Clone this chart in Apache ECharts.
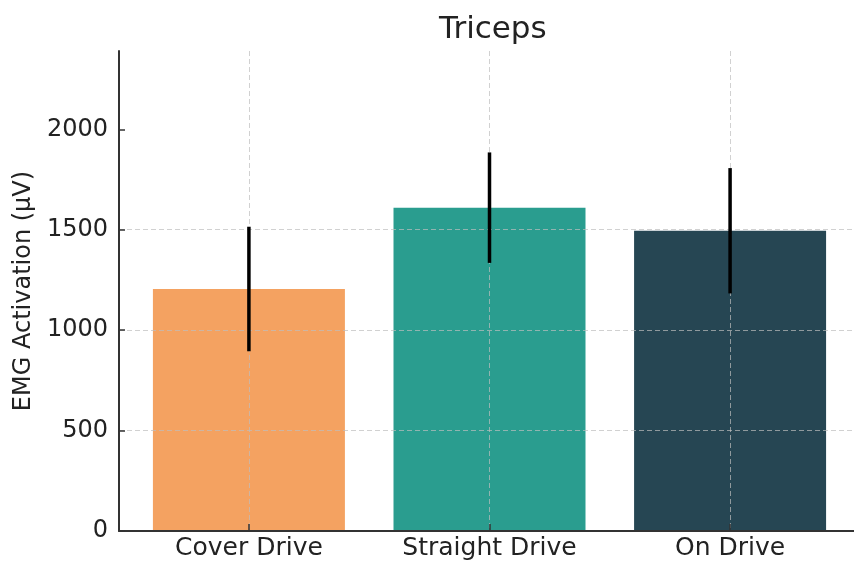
<!DOCTYPE html>
<html>
<head>
<meta charset="utf-8">
<script src="https://cdn.jsdelivr.net/npm/echarts@6/dist/echarts.min.js"></script>
<style>
  html, body { margin: 0; padding: 0; background: #fff; }
  #chart { width: 854px; height: 563px; }
</style>
</head>
<body>
<div id="chart"></div>
<script>
// data
const categories = ['Cover Drive', 'Straight Drive', 'On Drive'];
const means = [1205, 1610, 1495];
const errors = [310, 275, 312];
const barColors = ['#F4A261', '#2A9D8F', '#264653'];
const yTicks = [0, 500, 1000, 1500, 2000];

const font = 'DejaVu Sans';
const catIdx = categories.map((_, i) => i);
const gridLine = { show: true, lineStyle: { color: 'rgba(190,190,190,0.7)', type: [5, 3], width: 1 } };

const chart = echarts.init(document.getElementById('chart'));

const option = {
  animation: false,
  title: {
    text: 'Triceps',
    left: 434,
    top: 9,
    textStyle: { fontFamily: font, fontSize: 31, fontWeight: 'normal', color: '#222' }
  },
  // plot area runs past the right edge, like the cropped reference
  grid: { left: 119, top: 51, width: 741, height: 480, outerBoundsMode: 'none', containLabel: false },
  xAxis: {
    type: 'value',
    min: -0.54,
    max: 2.54,
    axisLine: { show: true, onZero: false, lineStyle: { color: '#333', width: 2 } },
    axisTick: { show: true, inside: true, length: 7, customValues: catIdx, lineStyle: { color: '#333', width: 1.5 } },
    axisLabel: {
      customValues: catIdx,
      formatter: v => categories[Math.round(v)] || '',
      fontFamily: font, fontSize: 25, color: '#222', margin: 5
    },
    splitLine: gridLine,
    z: 3
  },
  yAxis: {
    type: 'value',
    min: 0,
    max: 2390,
    interval: 500,
    name: 'EMG Activation (µV)',
    nameLocation: 'middle',
    nameGap: 79,
    nameTextStyle: { fontFamily: font, fontSize: 24, color: '#222' },
    axisLine: { show: true, onZero: false, lineStyle: { color: '#333', width: 2 } },
    axisTick: { show: true, inside: true, length: 6, customValues: yTicks, lineStyle: { color: '#333', width: 1.5 } },
    axisLabel: {
      customValues: yTicks,
      formatter: v => String(v),
      fontFamily: font, fontSize: 24, color: '#222', margin: 11
    },
    splitLine: Object.assign({ showMinLine: false, showMaxLine: false }, gridLine),
    z: 3
  },
  series: [
    {
      type: 'bar',
      barWidth: 192,
      data: means.map((m, i) => ({ value: [i, m], itemStyle: { color: barColors[i] } })),
      z: 2
    },
    {
      type: 'custom',
      data: means.map((m, i) => [i, m - errors[i], m + errors[i]]),
      renderItem: (params, api) => {
        const lo = api.coord([api.value(0), api.value(1)]);
        const hi = api.coord([api.value(0), api.value(2)]);
        return {
          type: 'line',
          shape: { x1: lo[0], y1: lo[1], x2: hi[0], y2: hi[1] },
          style: { stroke: '#000', lineWidth: 3.5 }
        };
      },
      z: 5
    }
  ]
};

chart.setOption(option);
</script>
</body>
</html>
